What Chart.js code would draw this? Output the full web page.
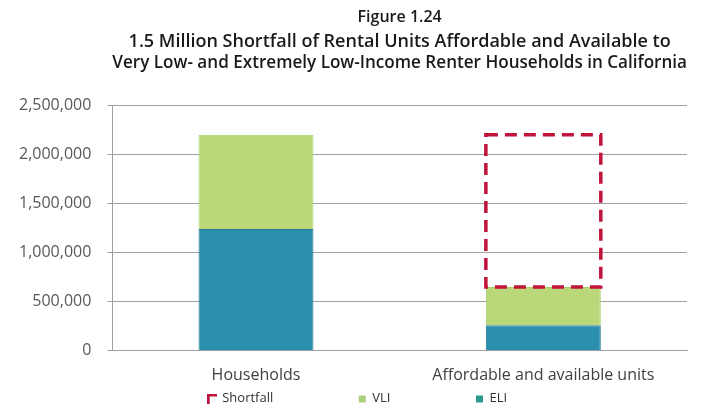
<!DOCTYPE html>
<html>
<head>
<meta charset="utf-8">
<script src="https://cdn.jsdelivr.net/npm/chart.js@4/dist/chart.umd.min.js"></script>
<style>
  html, body { margin: 0; padding: 0; background: #ffffff; }
  #wrap { width: 701px; height: 413px; }
</style>
</head>
<body>
<div id="wrap"><canvas id="shortfallChart" width="701" height="413"></canvas></div>
<script>
// Chart data
const categories = ["Households", "Affordable and available units"];
const eliValues = [1240000, 260000];
const vliValues = [960000, 390000];
const shortfallValues = [0, 1550000];
const yTicks = [0, 500000, 1000000, 1500000, 2000000, 2500000];

const FONT = "'Open Sans'";
const SHORTFALL_RED = "#c0143c";
// spacing after each legend item
const LEGEND_GAP = "\u2003\u2003\u2003\u2003\u2003\u2003\u2002";

// small legend markers
function makeMarker(kind, color) {
  const c = document.createElement("canvas");
  c.width = 10;
  c.height = 10;
  const g = c.getContext("2d");
  g.fillStyle = color;
  if (kind === "corner") {
    g.fillRect(0, 0, 10, 3);
    g.fillRect(0, 0, 3, 10);
  } else {
    g.fillRect(2, 2, 7, 7);
  }
  return c;
}

// draws the dashed outline for the shortfall dataset
const dashedShortfall = {
  id: "dashedShortfall",
  afterDatasetsDraw(chart) {
    const ctx = chart.ctx;
    const meta = chart.getDatasetMeta(2);
    ctx.save();
    ctx.strokeStyle = SHORTFALL_RED;
    ctx.lineWidth = 3.5;
    ctx.setLineDash([12, 7]);
    meta.data.forEach((bar, i) => {
      if (!shortfallValues[i]) return;
      const { x, y, base, width } = bar.getProps(["x", "y", "base", "width"], true);
      ctx.strokeRect(x - width / 2, y, width, base - y);
    });
    ctx.restore();
  },
};

const ctx = document.getElementById("shortfallChart").getContext("2d");

new Chart(ctx, {
  type: "bar",
  data: {
    labels: categories,
    datasets: [
      {
        label: "ELI",
        data: eliValues,
        backgroundColor: "#2d8fae",
        borderColor: "#25788f",
        borderWidth: 1,
        pointStyle: makeMarker("square", "#2a9a8c"),
      },
      {
        label: "VLI",
        data: vliValues,
        backgroundColor: "#bad87a",
        borderColor: "#a9cf6c",
        borderWidth: 1,
        pointStyle: makeMarker("square", "#a9cf7e"),
      },
      {
        label: "Shortfall",
        data: shortfallValues,
        backgroundColor: "rgba(0,0,0,0)",
        borderWidth: 0,
        pointStyle: makeMarker("corner", SHORTFALL_RED),
      },
    ],
  },
  options: {
    responsive: false,
    animation: false,
    barPercentage: 0.5,
    categoryPercentage: 0.8,
    layout: { padding: { left: 3, right: 14, top: 0, bottom: -2 } },
    plugins: {
      title: {
        display: true,
        text: "Figure 1.24",
        color: "#1a1a1a",
        font: { family: FONT, size: 16, weight: "600", lineHeight: 1.2 },
        padding: { top: 8, bottom: 4 },
        fullSize: false,
      },
      subtitle: {
        display: true,
        text: [
          "1.5 Million Shortfall of Rental Units Affordable and Available to",
          "Very Low- and Extremely Low-Income Renter Households in California",
        ],
        color: "#1a1a1a",
        font: { family: FONT, size: 18, weight: "600", lineHeight: 1.17 },
        padding: { top: 0, bottom: 32 },
        fullSize: false,
      },
      legend: {
        position: "bottom",
        fullSize: false,
        reverse: true,
        labels: {
          usePointStyle: true,
          boxWidth: 8,
          boxHeight: 8,
          color: "#333333",
          font: { family: FONT, size: 13, lineHeight: 1.0 },
          padding: 0,
          generateLabels(chart) {
            const items = Chart.defaults.plugins.legend.labels.generateLabels(chart);
            items.forEach((item) => {
              item.text += LEGEND_GAP;
            });
            return items;
          },
        },
      },
      tooltip: { enabled: false },
    },
    scales: {
      x: {
        stacked: true,
        grid: { display: false },
        border: { display: true, color: "#a0a0a0" },
        ticks: {
          color: "#404040",
          font: { family: FONT, size: 16, lineHeight: 1.7 },
          padding: 3,
        },
      },
      y: {
        stacked: true,
        min: 0,
        max: 2500000,
        afterBuildTicks(axis) {
          axis.ticks = yTicks.map((v) => ({ value: v }));
        },
        grid: { color: "#a0a0a0", tickLength: 5 },
        border: { display: true, color: "#a0a0a0" },
        ticks: {
          color: "#595959",
          font: { family: FONT, size: 16 },
          padding: 16,
          callback: (v) => v.toLocaleString("en-US"),
        },
      },
    },
  },
  plugins: [dashedShortfall],
});
</script>
</body>
</html>
